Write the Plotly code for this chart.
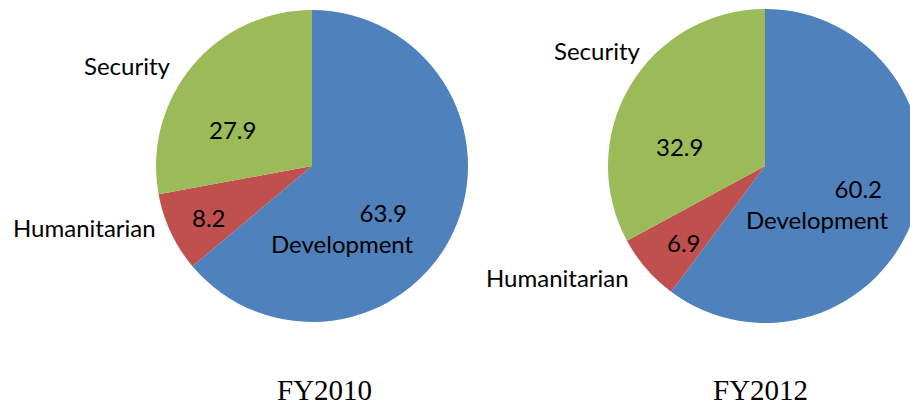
import plotly.graph_objects as go

categories = ["Development", "Humanitarian", "Security"]
fy2010_values = [63.9, 8.2, 27.9]
fy2012_values = [60.2, 6.9, 32.9]
titles = ["FY2010", "FY2012"]
colors = ["#4F81BD", "#C0504D", "#9BBB59"]

W, H = 924, 408

def px_x(x):
    return x / W

def px_y(y):
    return 1 - y / H

fig = go.Figure()
pies = [
    (fy2010_values, (156, 468), (10, 322)),
    (fy2012_values, (608, 922), (9, 323)),
]
for vals, (x0, x1), (y0, y1) in pies:
    fig.add_trace(go.Pie(
        labels=categories, values=vals, sort=False, direction="clockwise",
        rotation=0, textinfo="none", hoverinfo="label+value",
        marker=dict(colors=colors, line=dict(width=0)),
        domain=dict(x=[px_x(x0), px_x(x1)], y=[px_y(y1), px_y(y0)]),
        showlegend=False,
    ))

sans = dict(family="Lato, Open Sans, sans-serif", size=24, color="black")
serif = dict(family="Liberation Serif, Times New Roman, serif", size=29, color="black")

anns = []
# Titles
for t, cx in zip(titles, [324.5, 760.5]):
    anns.append(dict(text=t, x=px_x(cx), y=0, xanchor="center", yanchor="bottom", font=serif))

# Outside labels (category names)
label_pos = [
    (0, 2, 173, 65),
    (0, 1, 158, 227),
    (1, 2, 643, 50),
    (1, 1, 631, 277),
]
for p, c, x, y in label_pos:
    anns.append(dict(text=categories[c], x=px_x(x), y=px_y(y), xanchor="right", yanchor="middle", font=sans))

all_vals = [fy2010_values, fy2012_values]
value_pos = [
    (0, 2, 232, 129),
    (0, 1, 209, 217),
    (1, 2, 679, 146),
    (1, 1, 684, 242),
]
for p, c, x, y in value_pos:
    anns.append(dict(text=f"{all_vals[p][c]:.1f}", x=px_x(x), y=px_y(y), xanchor="center", yanchor="middle", font=sans))

# Development: value above name, right aligned block
dev_pos = [(416, 228), (891, 204)]
for p, (x, y) in enumerate(dev_pos):
    anns.append(dict(text=f"{all_vals[p][0]:.1f}&nbsp;<br>{categories[0]}", x=px_x(x), y=px_y(y),
                     xanchor="right", yanchor="middle", align="right", font=sans))

for a in anns:
    a.update(xref="paper", yref="paper", showarrow=False)

fig.update_layout(
    width=W, height=H, margin=dict(l=0, r=0, t=0, b=0),
    paper_bgcolor="white", plot_bgcolor="white",
    annotations=anns,
)

fig.write_html(
    "out.html",
    post_script="document.body.style.overflow='hidden';document.documentElement.style.overflow='hidden';",
)
